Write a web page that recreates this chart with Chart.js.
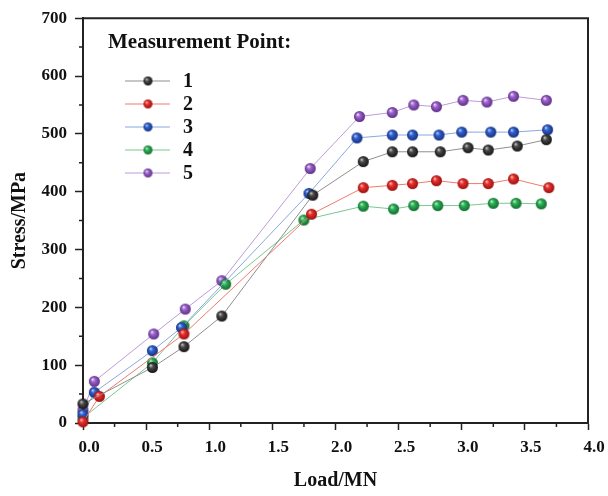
<!DOCTYPE html>
<html>
<head>
<meta charset="utf-8">
<script src="https://cdn.jsdelivr.net/npm/chart.js@4/dist/chart.umd.min.js"></script>
<style>
  html, body { margin: 0; padding: 0; background: #ffffff; }
  #wrap { width: 608px; height: 496px; }
</style>
</head>
<body>
<div id="wrap"><canvas id="c" width="608" height="496"></canvas></div>
<script>
// ---- data ----
const seriesLabels = ['1', '2', '3', '4', '5'];
const legendTitle = 'Measurement Point:';
const xTitle = 'Load/MN';
const yTitle = 'Stress/MPa';

const load1   = [0, 0.55, 0.80, 1.10, 1.82, 2.22, 2.45, 2.61, 2.83, 3.05, 3.21, 3.44, 3.67];
const stress1 = [33, 96, 132, 185, 394, 452, 469, 469, 469, 476, 472, 479, 490];

const load2   = [0, 0.13, 0.80, 1.81, 2.22, 2.45, 2.61, 2.80, 3.01, 3.21, 3.41, 3.69];
const stress2 = [2, 46, 154, 361, 407, 411, 414, 419, 414, 414, 422, 407];

const load3   = [0, 0.09, 0.55, 0.78, 1.79, 2.17, 2.45, 2.61, 2.82, 3.00, 3.23, 3.41, 3.68];
const stress3 = [15, 53, 125, 165, 397, 493, 498, 498, 498, 503, 503, 503, 507];

const load4   = [0, 0.55, 0.80, 1.13, 1.75, 2.22, 2.46, 2.62, 2.81, 3.02, 3.25, 3.43, 3.63];
const stress4 = [9, 104, 168, 240, 351, 375, 370, 376, 376, 376, 380, 380, 379];

const load5   = [0, 0.09, 0.56, 0.81, 1.10, 1.80, 2.19, 2.45, 2.62, 2.80, 3.01, 3.20, 3.41, 3.67];
const stress5 = [22, 72, 154, 197, 246, 440, 530, 537, 550, 547, 558, 555, 565, 558];

const xTicks = [0, 0.5, 1.0, 1.5, 2.0, 2.5, 3.0, 3.5, 4.0];
const yTicks = [0, 100, 200, 300, 400, 500, 600, 700];

// ---- styling ----
const lineColors = ['#8f8f8f', '#ef7a6c', '#8aa6e2', '#7cc792', '#bd9bd8'];
const ballColors = [
  ['#c8c8c8', '#4a4a4a', '#141414'],
  ['#ffc0c0', '#e8302c', '#9a1010'],
  ['#b8cfff', '#2f62d0', '#17307a'],
  ['#b8f5c6', '#2db258', '#116b2e'],
  ['#efdcff', '#9d66cc', '#5e2d86']
];
const FONT = '"Liberation Serif", "Times New Roman", serif';

function ball(cols, r) {
  const s = Math.ceil(r * 2 + 2);
  const c = document.createElement('canvas');
  c.width = s; c.height = s;
  const g = c.getContext('2d');
  const cx = s / 2, cy = s / 2;
  const grad = g.createRadialGradient(cx - r * 0.35, cy - r * 0.4, r * 0.05, cx, cy, r);
  grad.addColorStop(0, cols[0]);
  grad.addColorStop(0.35, cols[1]);
  grad.addColorStop(1, cols[2]);
  g.fillStyle = grad;
  g.beginPath();
  g.arc(cx, cy, r, 0, Math.PI * 2);
  g.fill();
  return c;
}

const loads = [load1, load2, load3, load4, load5];
const stresses = [stress1, stress2, stress3, stress4, stress5];

const datasets = seriesLabels.map((lab, k) => ({
  label: lab,
  data: loads[k].map((x, i) => ({ x: x, y: stresses[k][i] })),
  borderColor: lineColors[k],
  borderWidth: 1,
  pointStyle: ball(ballColors[k], 5.5),
  legendBall: ball(ballColors[k], 4.5),
  pointRadius: 6,
  pointHoverRadius: 6,
  tension: 0,
  fill: false,
  clip: false
}));

const frameAndExtras = {
  id: 'frameAndExtras',
  afterDraw(chart) {
    const { ctx, chartArea: a, scales } = chart;
    ctx.save();
    // top and right frame
    ctx.strokeStyle = '#222';
    ctx.lineWidth = 2;
    ctx.beginPath();
    ctx.moveTo(a.left - 1, a.top);
    ctx.lineTo(a.right, a.top);
    ctx.lineTo(a.right, a.bottom + 1);
    ctx.stroke();
    // minor ticks
    ctx.lineWidth = 1.5;
    ctx.beginPath();
    for (let v = 50; v < 700; v += 100) {
      const y = scales.y.getPixelForValue(v);
      ctx.moveTo(a.left - 4, y); ctx.lineTo(a.left, y);
    }
    for (let v = 0.25; v < 4; v += 0.5) {
      const x = scales.x.getPixelForValue(v);
      ctx.moveTo(x, a.bottom); ctx.lineTo(x, a.bottom + 4);
    }
    ctx.stroke();
    // legend
    ctx.fillStyle = '#111';
    ctx.textBaseline = 'middle';
    ctx.textAlign = 'left';
    ctx.font = 'bold 21px ' + FONT;
    ctx.fillText(legendTitle, 108, 43);
    chart.data.datasets.forEach((ds, k) => {
      const y = 81 + k * 23;
      ctx.strokeStyle = ds.borderColor;
      ctx.lineWidth = 1;
      ctx.beginPath();
      ctx.moveTo(125, y); ctx.lineTo(170, y);
      ctx.stroke();
      const b = ds.legendBall;
      ctx.drawImage(b, 148 - b.width / 2, y - b.height / 2);
      ctx.font = 'bold 20px ' + FONT;
      ctx.fillStyle = '#111';
      ctx.fillText(ds.label, 183, y + 1);
    });
    ctx.restore();
  }
};

new Chart(document.getElementById('c'), {
  type: 'line',
  data: { datasets: datasets },
  options: {
    responsive: false,
    animation: false,
    events: [],
    layout: { padding: { top: 15, right: 20, left: 0, bottom: 0 } },
    plugins: { legend: { display: false }, tooltip: { enabled: false } },
    scales: {
      x: {
        type: 'linear',
        min: 0, max: 4,
        afterFit(s) { s.height = 73; },
        afterBuildTicks(s) { s.ticks = xTicks.map(v => ({ value: v })); },
        border: { display: true, color: '#222', width: 2 },
        grid: { drawOnChartArea: false, drawTicks: true, tickLength: 7, tickWidth: 1.5, tickColor: '#222' },
        ticks: {
          color: '#111', padding: 7, labelOffset: 6, maxRotation: 0,
          font: { family: FONT, size: 17, weight: 'bold' },
          callback: v => Number(v).toFixed(1)
        },
        title: {
          display: true, text: xTitle, color: '#111',
          font: { family: FONT, size: 20, weight: 'bold' },
          padding: { top: 0, bottom: 3 }
        }
      },
      y: {
        min: 0, max: 700,
        afterFit(s) { s.width = 83; },
        afterBuildTicks(s) { s.ticks = yTicks.map(v => ({ value: v })); },
        border: { display: true, color: '#222', width: 2 },
        grid: { drawOnChartArea: false, drawTicks: true, tickLength: 8, tickWidth: 1.5, tickColor: '#222' },
        ticks: {
          color: '#111', padding: 8,
          font: { family: FONT, size: 17, weight: 'bold' },
          callback: v => String(v)
        },
        title: {
          display: true, text: yTitle, color: '#111',
          font: { family: FONT, size: 20, weight: 'bold' },
          padding: { top: 8, bottom: 0 }
        }
      }
    }
  },
  plugins: [frameAndExtras]
});
</script>
</body>
</html>
